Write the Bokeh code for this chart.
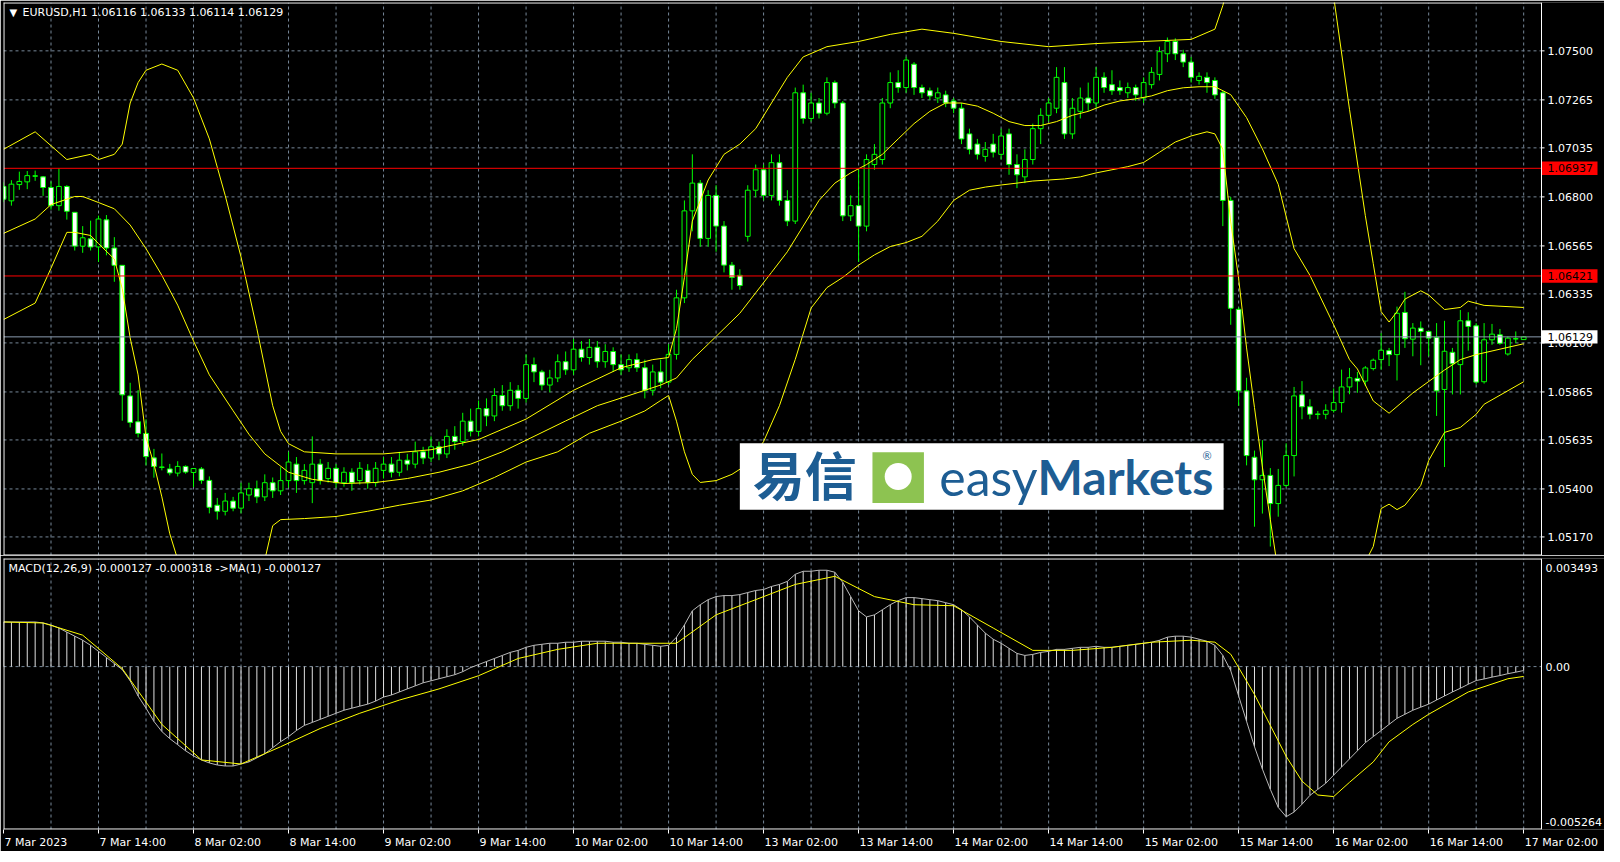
from bokeh.plotting import figure
from bokeh.layouts import column
from bokeh.models import Range1d, FixedTicker, Label
from bokeh.embed import file_html
from bokeh.resources import INLINE
from bokeh.core.properties import value

# ---------------- data ----------------
symbol_title = "EURUSD,H1  1.06116 1.06133 1.06114 1.06129"
macd_title = "MACD(12,26,9) -0.000127 -0.000318  ->MA(1) -0.000127"
time_labels = ["7 Mar 2023", "7 Mar 14:00", "8 Mar 02:00", "8 Mar 14:00", "9 Mar 02:00",
               "9 Mar 14:00", "10 Mar 02:00", "10 Mar 14:00", "13 Mar 02:00", "13 Mar 14:00",
               "14 Mar 02:00", "14 Mar 14:00", "15 Mar 02:00", "15 Mar 14:00", "16 Mar 02:00",
               "16 Mar 14:00", "17 Mar 02:00"]
bars_per_label = 12
bars_per_grid = 6

ohlc = [
    (1.06850, 1.06870, 1.06775, 1.06789), (1.06781, 1.06880, 1.06758, 1.06861),
    (1.06859, 1.06921, 1.06834, 1.06874), (1.06872, 1.06924, 1.06837, 1.06902),
    (1.06900, 1.06926, 1.06877, 1.06900), (1.06896, 1.06900, 1.06805, 1.06845),
    (1.06845, 1.06874, 1.06739, 1.06758), (1.06758, 1.06937, 1.06734, 1.06850),
    (1.06850, 1.06856, 1.06691, 1.06731), (1.06726, 1.06726, 1.06543, 1.06564),
    (1.06564, 1.06660, 1.06532, 1.06604), (1.06599, 1.06686, 1.06543, 1.06560),
    (1.06560, 1.06710, 1.06488, 1.06694), (1.06690, 1.06713, 1.06520, 1.06555),
    (1.06555, 1.06607, 1.06393, 1.06472), (1.06472, 1.06472, 1.05727, 1.05851),
    (1.05846, 1.05909, 1.05695, 1.05719), (1.05722, 1.05874, 1.05647, 1.05666),
    (1.05666, 1.05734, 1.05513, 1.05555), (1.05549, 1.05592, 1.05454, 1.05508),
    (1.05504, 1.05570, 1.05489, 1.05504), (1.05496, 1.05520, 1.05465, 1.05477),
    (1.05476, 1.05533, 1.05460, 1.05508), (1.05508, 1.05513, 1.05473, 1.05481),
    (1.05479, 1.05498, 1.05409, 1.05498), (1.05496, 1.05505, 1.05425, 1.05441),
    (1.05441, 1.05460, 1.05283, 1.05312), (1.05322, 1.05357, 1.05253, 1.05293),
    (1.05293, 1.05381, 1.05273, 1.05342), (1.05342, 1.05362, 1.05293, 1.05308),
    (1.05308, 1.05430, 1.05283, 1.05381), (1.05371, 1.05430, 1.05342, 1.05401),
    (1.05401, 1.05440, 1.05332, 1.05362), (1.05362, 1.05470, 1.05342, 1.05430),
    (1.05430, 1.05455, 1.05357, 1.05391), (1.05391, 1.05504, 1.05371, 1.05440),
    (1.05440, 1.05578, 1.05406, 1.05529), (1.05519, 1.05553, 1.05381, 1.05440),
    (1.05440, 1.05519, 1.05421, 1.05489), (1.05430, 1.05652, 1.05332, 1.05519),
    (1.05519, 1.05543, 1.05421, 1.05440), (1.05450, 1.05529, 1.05430, 1.05499),
    (1.05499, 1.05519, 1.05406, 1.05430), (1.05430, 1.05504, 1.05411, 1.05480),
    (1.05480, 1.05499, 1.05391, 1.05430), (1.05440, 1.05529, 1.05421, 1.05499),
    (1.05489, 1.05519, 1.05401, 1.05430), (1.05430, 1.05529, 1.05411, 1.05499),
    (1.05489, 1.05553, 1.05450, 1.05519), (1.05519, 1.05553, 1.05455, 1.05480),
    (1.05480, 1.05578, 1.05460, 1.05538), (1.05538, 1.05568, 1.05489, 1.05519),
    (1.05519, 1.05627, 1.05499, 1.05578), (1.05578, 1.05602, 1.05519, 1.05548),
    (1.05548, 1.05652, 1.05529, 1.05602), (1.05602, 1.05627, 1.05538, 1.05568),
    (1.05568, 1.05686, 1.05548, 1.05652), (1.05652, 1.05701, 1.05588, 1.05627),
    (1.05627, 1.05765, 1.05608, 1.05725), (1.05725, 1.05785, 1.05652, 1.05676),
    (1.05676, 1.05824, 1.05652, 1.05785), (1.05785, 1.05834, 1.05701, 1.05750),
    (1.05750, 1.05883, 1.05725, 1.05848), (1.05848, 1.05898, 1.05775, 1.05799),
    (1.05799, 1.05912, 1.05775, 1.05873), (1.05873, 1.05898, 1.05785, 1.05834),
    (1.05834, 1.06045, 1.05814, 1.05996), (1.05996, 1.06030, 1.05912, 1.05961),
    (1.05961, 1.05971, 1.05873, 1.05898), (1.05898, 1.05971, 1.05863, 1.05932),
    (1.05932, 1.06045, 1.05912, 1.06010), (1.06010, 1.06059, 1.05947, 1.05971),
    (1.05971, 1.06119, 1.05947, 1.06070), (1.06070, 1.06109, 1.06010, 1.06030),
    (1.06030, 1.06119, 1.05996, 1.06079), (1.06079, 1.06109, 1.05981, 1.06010),
    (1.06010, 1.06094, 1.05981, 1.06059), (1.06059, 1.06079, 1.05961, 1.05996),
    (1.05996, 1.06045, 1.05947, 1.05971), (1.05981, 1.06045, 1.05961, 1.06020),
    (1.06020, 1.06050, 1.05961, 1.05981), (1.05981, 1.06020, 1.05834, 1.05873),
    (1.05873, 1.05996, 1.05848, 1.05961), (1.05961, 1.06020, 1.05883, 1.05912),
    (1.05912, 1.06094, 1.05898, 1.06045), (1.06045, 1.06355, 1.06020, 1.06316),
    (1.06316, 1.06783, 1.06291, 1.06733), (1.06733, 1.07004, 1.06635, 1.06866),
    (1.06866, 1.06881, 1.06561, 1.06601), (1.06601, 1.06832, 1.06561, 1.06807),
    (1.06807, 1.06856, 1.06537, 1.06660), (1.06660, 1.06684, 1.06438, 1.06473),
    (1.06473, 1.06488, 1.06355, 1.06414), (1.06424, 1.06453, 1.06355, 1.06375),
    (1.06611, 1.06856, 1.06586, 1.06832), (1.06832, 1.06955, 1.06798, 1.06930),
    (1.06930, 1.06955, 1.06783, 1.06807), (1.06807, 1.07004, 1.06783, 1.06964),
    (1.06964, 1.07004, 1.06758, 1.06783), (1.06783, 1.06832, 1.06660, 1.06684),
    (1.06684, 1.07324, 1.06670, 1.07299), (1.07299, 1.07338, 1.07151, 1.07176),
    (1.07176, 1.07299, 1.07161, 1.07250), (1.07250, 1.07274, 1.07176, 1.07201),
    (1.07201, 1.07373, 1.07191, 1.07348), (1.07348, 1.07358, 1.07225, 1.07250),
    (1.07250, 1.07260, 1.06684, 1.06709), (1.06709, 1.06807, 1.06684, 1.06758),
    (1.06758, 1.06930, 1.06488, 1.06660), (1.06660, 1.07004, 1.06635, 1.06979),
    (1.06955, 1.07053, 1.06930, 1.07004), (1.06979, 1.07274, 1.06955, 1.07250),
    (1.07250, 1.07397, 1.07225, 1.07348), (1.07348, 1.07407, 1.07299, 1.07324),
    (1.07324, 1.07471, 1.07299, 1.07456), (1.07436, 1.07446, 1.07289, 1.07324),
    (1.07324, 1.07338, 1.07274, 1.07299), (1.07309, 1.07324, 1.07264, 1.07284),
    (1.07274, 1.07324, 1.07250, 1.07299), (1.07289, 1.07309, 1.07230, 1.07250),
    (1.07260, 1.07274, 1.07201, 1.07225), (1.07225, 1.07250, 1.07053, 1.07078),
    (1.07102, 1.07127, 1.07004, 1.07028), (1.07053, 1.07078, 1.06979, 1.07004),
    (1.06994, 1.07063, 1.06969, 1.07028), (1.07053, 1.07102, 1.06989, 1.07014),
    (1.07004, 1.07127, 1.06979, 1.07092), (1.07102, 1.07127, 1.06906, 1.06955),
    (1.06955, 1.07004, 1.06842, 1.06906), (1.06896, 1.07028, 1.06866, 1.06979),
    (1.06979, 1.07151, 1.06955, 1.07127), (1.07127, 1.07225, 1.07053, 1.07191),
    (1.07191, 1.07274, 1.07161, 1.07250), (1.07225, 1.07422, 1.07201, 1.07373),
    (1.07348, 1.07422, 1.07078, 1.07102), (1.07102, 1.07274, 1.07078, 1.07225),
    (1.07210, 1.07324, 1.07176, 1.07274), (1.07274, 1.07348, 1.07210, 1.07250),
    (1.07250, 1.07422, 1.07225, 1.07373), (1.07373, 1.07397, 1.07299, 1.07324),
    (1.07338, 1.07407, 1.07289, 1.07309), (1.07324, 1.07358, 1.07289, 1.07309),
    (1.07299, 1.07348, 1.07274, 1.07324), (1.07324, 1.07338, 1.07260, 1.07289),
    (1.07274, 1.07373, 1.07250, 1.07348), (1.07338, 1.07422, 1.07319, 1.07397),
    (1.07387, 1.07520, 1.07358, 1.07496), (1.07486, 1.07564, 1.07446, 1.07545),
    (1.07545, 1.07560, 1.07456, 1.07486), (1.07486, 1.07505, 1.07422, 1.07446),
    (1.07446, 1.07471, 1.07348, 1.07373), (1.07358, 1.07397, 1.07338, 1.07378),
    (1.07373, 1.07397, 1.07299, 1.07348), (1.07358, 1.07373, 1.07270, 1.07289),
    (1.07299, 1.07309, 1.06660, 1.06783), (1.06783, 1.06800, 1.06187, 1.06266),
    (1.06261, 1.06270, 1.05798, 1.05870), (1.05870, 1.05933, 1.05513, 1.05560),
    (1.05552, 1.05584, 1.05219, 1.05444), (1.05444, 1.05634, 1.05282, 1.05465),
    (1.05465, 1.05500, 1.05124, 1.05330), (1.05330, 1.05496, 1.05267, 1.05417),
    (1.05417, 1.05619, 1.05409, 1.05560), (1.05560, 1.05889, 1.05460, 1.05846),
    (1.05851, 1.05917, 1.05734, 1.05794), (1.05794, 1.05830, 1.05734, 1.05758),
    (1.05758, 1.05774, 1.05734, 1.05758), (1.05758, 1.05806, 1.05734, 1.05777),
    (1.05777, 1.05882, 1.05766, 1.05814), (1.05814, 1.05972, 1.05766, 1.05889),
    (1.05889, 1.05980, 1.05854, 1.05933), (1.05930, 1.05961, 1.05861, 1.05917),
    (1.05917, 1.05989, 1.05893, 1.05980), (1.05977, 1.06025, 1.05968, 1.06017),
    (1.06020, 1.06147, 1.05972, 1.06065), (1.06063, 1.06076, 1.05989, 1.06044),
    (1.06044, 1.06274, 1.05920, 1.06242), (1.06246, 1.06345, 1.06076, 1.06120),
    (1.06118, 1.06195, 1.06036, 1.06171), (1.06171, 1.06203, 1.05993, 1.06155),
    (1.06155, 1.06158, 1.06036, 1.06123), (1.06127, 1.06195, 1.05750, 1.05870),
    (1.05877, 1.06206, 1.05505, 1.06060), (1.06055, 1.06076, 1.05853, 1.06000),
    (1.05996, 1.06258, 1.05853, 1.06206), (1.06206, 1.06247, 1.06063, 1.06179),
    (1.06182, 1.06195, 1.05901, 1.05912), (1.05914, 1.06195, 1.05905, 1.06115),
    (1.06115, 1.06191, 1.06091, 1.06142), (1.06139, 1.06167, 1.06091, 1.06098),
    (1.06047, 1.06131, 1.06039, 1.06123), (1.06120, 1.06155, 1.06099, 1.06120),
    (1.06116, 1.06133, 1.06114, 1.06129),
]
opens = [r[0] for r in ohlc]
highs = [r[1] for r in ohlc]
lows = [r[2] for r in ohlc]
closes = [r[3] for r in ohlc]

bb_upper = [(0, 1.07028), (4, 1.07112), (8, 1.06979), (11, 1.07004), (12, 1.06979), (14, 1.07004),
            (15, 1.07053), (16, 1.07250), (17, 1.07348), (18, 1.07407), (20, 1.07437), (22, 1.07407),
            (24, 1.07274), (26, 1.07078), (28, 1.06807), (30, 1.06512), (32, 1.06168), (34, 1.05799),
            (35, 1.05676), (36, 1.05617), (38, 1.05578), (42, 1.05568), (48, 1.05568), (54, 1.05588),
            (60, 1.05637), (66, 1.05735), (72, 1.05873), (78, 1.05981), (82, 1.06020), (84, 1.06030),
            (85, 1.06168), (86, 1.06414), (87, 1.06684), (89, 1.06881), (91, 1.07004), (93, 1.07053),
            (95, 1.07127), (97, 1.07250), (99, 1.07373), (101, 1.07471), (104, 1.07520), (108, 1.07545),
            (112, 1.07579), (116, 1.07604), (120, 1.07584), (126, 1.07545), (132, 1.07520), (138, 1.07535),
            (144, 1.07545), (150, 1.07555), (153, 1.07604), (154, 1.07717), (156, 1.08000), (158, 1.08250),
            (160, 1.08400), (162, 1.08480), (164, 1.08420), (166, 1.08150), (168, 1.07760), (170, 1.07220),
            (172, 1.06710), (173, 1.06480), (174, 1.06250), (175, 1.06200), (176, 1.06250), (177, 1.06310),
            (179, 1.06350), (180, 1.06330), (182, 1.06260), (184, 1.06270), (185, 1.06300), (187, 1.06280),
            (192, 1.06270)]
bb_middle = [(0, 1.06625), (4, 1.06694), (6, 1.06763), (9, 1.06802), (10, 1.06802), (12, 1.06773),
             (14, 1.06743), (16, 1.06665), (18, 1.06552), (20, 1.06424), (22, 1.06281), (24, 1.06109),
             (26, 1.05947), (29, 1.05775), (31, 1.05662), (33, 1.05568), (36, 1.05480), (39, 1.05446),
             (43, 1.05426), (47, 1.05431), (51, 1.05450), (55, 1.05480), (59, 1.05519), (63, 1.05578),
             (67, 1.05652), (71, 1.05726), (75, 1.05799), (79, 1.05848), (83, 1.05898), (85, 1.05932),
             (87, 1.06021), (89, 1.06094), (91, 1.06168), (93, 1.06242), (95, 1.06340), (97, 1.06438),
             (99, 1.06537), (101, 1.06660), (103, 1.06783), (105, 1.06866), (107, 1.06915), (109, 1.06955),
             (111, 1.07004), (113, 1.07078), (115, 1.07151), (117, 1.07210), (119, 1.07250), (121, 1.07250),
             (123, 1.07235), (125, 1.07201), (127, 1.07161), (129, 1.07142), (131, 1.07142), (133, 1.07161),
             (135, 1.07191), (137, 1.07210), (139, 1.07240), (141, 1.07260), (143, 1.07270), (145, 1.07284),
             (147, 1.07309), (149, 1.07323), (151, 1.07328), (153, 1.07328), (155, 1.07290), (157, 1.07180),
             (159, 1.07030), (161, 1.06860), (163, 1.06552), (165, 1.06424), (168, 1.06187), (170, 1.06020),
             (171, 1.05975), (173, 1.05822), (175, 1.05763), (178, 1.05860), (180, 1.05915), (182, 1.05970),
             (184, 1.06020), (186, 1.06044), (192, 1.06096)]
bb_lower = [(0, 1.06212), (4, 1.06291), (6, 1.06458), (8, 1.06630), (9, 1.06630), (11, 1.06615),
            (12, 1.06576), (14, 1.06502), (15, 1.06360), (16, 1.06124), (17, 1.05947), (18, 1.05647),
            (19, 1.05519), (20, 1.05362), (21, 1.05185), (22, 1.05062), (24, 1.04900), (27, 1.04780),
            (30, 1.04820), (32, 1.04920), (33, 1.05060), (34, 1.05224), (35, 1.05253), (38, 1.05258),
            (42, 1.05268), (46, 1.05293), (50, 1.05322), (54, 1.05347), (58, 1.05391), (62, 1.05455),
            (66, 1.05529), (70, 1.05578), (74, 1.05667), (78, 1.05725), (81, 1.05774), (83, 1.05824),
            (84, 1.05848), (85, 1.05725), (86, 1.05578), (87, 1.05470), (88, 1.05431), (90, 1.05440),
            (92, 1.05470), (94, 1.05519), (96, 1.05627), (98, 1.05799), (100, 1.06021), (102, 1.06267),
            (104, 1.06365), (106, 1.06414), (108, 1.06473), (110, 1.06522), (112, 1.06562), (114, 1.06581),
            (116, 1.06611), (118, 1.06684), (120, 1.06783), (122, 1.06832), (124, 1.06847), (126, 1.06857),
            (128, 1.06866), (130, 1.06876), (132, 1.06881), (134, 1.06886), (136, 1.06896), (138, 1.06915),
            (140, 1.06930), (142, 1.06945), (144, 1.06965), (146, 1.07014), (148, 1.07063), (150, 1.07092),
            (152, 1.07112), (153, 1.07102), (154, 1.07028), (155, 1.06680), (156, 1.06408), (157, 1.06076),
            (158, 1.05790), (159, 1.05505), (160, 1.05253), (161, 1.05000), (162, 1.04780), (164, 1.04620),
            (166, 1.04650), (168, 1.04780), (170, 1.04920), (172, 1.05050), (173, 1.05124), (174, 1.05306),
            (175, 1.05327), (176, 1.05301), (177, 1.05322), (179, 1.05417), (180, 1.05536), (182, 1.05671),
            (184, 1.05695), (186, 1.05758), (187, 1.05806), (192, 1.05914)]

price_ticks = [1.07500, 1.07265, 1.07035, 1.06800, 1.06565, 1.06335, 1.06100,
               1.05865, 1.05635, 1.05400, 1.05170]
price_low, price_high = 1.050810, 1.077318
level_lines = [1.06937, 1.06421]
bid_price = 1.06129

macd = [0.001442, 0.001442, 0.001442, 0.001442, 0.001442, 0.001410, 0.001344, 0.001246, 0.001115, 0.000983,
        0.000852, 0.000688, 0.000492, 0.000295, 0.000098, -0.000098, -0.000459, -0.000951, -0.001344, -0.001770,
        -0.002098, -0.002327, -0.002524, -0.002721, -0.002885, -0.003016, -0.003114, -0.003180, -0.003212, -0.003212,
        -0.003147, -0.003081, -0.002950, -0.002819, -0.002622, -0.002426, -0.002262, -0.002065, -0.001901, -0.001803,
        -0.001705, -0.001606, -0.001508, -0.001410, -0.001344, -0.001278, -0.001213, -0.001115, -0.000983, -0.000918,
        -0.000820, -0.000721, -0.000623, -0.000524, -0.000459, -0.000393, -0.000328, -0.000262, -0.000164, -0.000033,
        0.000066, 0.000164, 0.000262, 0.000361, 0.000459, 0.000524, 0.000623, 0.000688, 0.000721, 0.000754,
        0.000754, 0.000787, 0.000787, 0.000820, 0.000820, 0.000820, 0.000820, 0.000787, 0.000787, 0.000754,
        0.000754, 0.000721, 0.000688, 0.000656, 0.000688, 0.000951, 0.001344, 0.001803, 0.002000, 0.002163,
        0.002262, 0.002295, 0.002295, 0.002327, 0.002393, 0.002459, 0.002491, 0.002590, 0.002655, 0.002754,
        0.002983, 0.003081, 0.003081, 0.003114, 0.003114, 0.003049, 0.002721, 0.002262, 0.001803, 0.001606,
        0.001672, 0.001836, 0.002000, 0.002131, 0.002229, 0.002229, 0.002196, 0.002163, 0.002131, 0.002065,
        0.002000, 0.001836, 0.001606, 0.001344, 0.001082, 0.000885, 0.000754, 0.000590, 0.000426, 0.000361,
        0.000393, 0.000459, 0.000492, 0.000557, 0.000557, 0.000590, 0.000623, 0.000623, 0.000656, 0.000623,
        0.000623, 0.000656, 0.000688, 0.000721, 0.000754, 0.000787, 0.000852, 0.000951, 0.000983, 0.000983,
        0.000951, 0.000885, 0.000820, 0.000688, 0.000361, -0.000131, -0.000951, -0.001770, -0.002590, -0.003311,
        -0.003966, -0.004550, -0.004850, -0.004700, -0.004450, -0.004163, -0.003966, -0.003770, -0.003507, -0.003245,
        -0.002983, -0.002721, -0.002459, -0.002262, -0.002065, -0.001868, -0.001672, -0.001541, -0.001410, -0.001311,
        -0.001213, -0.001080, -0.000950, -0.000820, -0.000700, -0.000570, -0.000450, -0.000400, -0.000340, -0.000290,
        -0.000230, -0.000180, -0.000127]
macd_signal = [(0, 0.001442), (5, 0.001410), (10, 0.001016), (15, -0.000066), (20, -0.001868), (25, -0.003016),
               (30, -0.003147), (35, -0.002590), (40, -0.002000), (45, -0.001508), (50, -0.001082), (55, -0.000721),
               (60, -0.000295), (65, 0.000262), (70, 0.000557), (75, 0.000754), (80, 0.000754), (85, 0.000754),
               (90, 0.001672), (95, 0.002163), (100, 0.002655), (105, 0.002917), (110, 0.002262), (115, 0.002000),
               (120, 0.001967), (125, 0.001246), (130, 0.000524), (135, 0.000524), (140, 0.000623), (145, 0.000787),
               (150, 0.000852), (153, 0.000790), (155, 0.000400), (158, -0.000900), (160, -0.001900), (162, -0.002900),
               (164, -0.003700), (166, -0.004150), (168, -0.004200), (170, -0.003740), (173, -0.003080),
               (175, -0.002430), (178, -0.001870), (180, -0.001540), (185, -0.000820), (190, -0.000393),
               (192, -0.000318)]
macd_top, macd_bottom = 0.003493, -0.005264

# ---------------- layout ----------------
FONT = "DejaVu Sans"
FS = "11px"
CHART_W = 1538          # width of the price area, px
FULL_W = 1601           # price area + right scale area
MAIN_H, MACD_H = 553, 271
X_END = 194.25          # bars visible across the price area
PX = CHART_W / X_END    # px per bar
X_TOT = FULL_W / PX
GRID = "#778899"
CANDLE = "#00ff00"
N = len(closes)
idx = list(range(N))
grid_x = list(range(bars_per_grid, N, bars_per_grid))


def dx(px):
    return px / PX


def new_panel(h, lo, hi, bottom, xr):
    f = figure(frame_width=FULL_W, frame_height=h, x_range=xr,
               y_range=Range1d(lo, hi), output_backend="svg", toolbar_location=None,
               x_axis_location=None if bottom == 0 else "below", y_axis_location=None,
               background_fill_color="black", border_fill_color="black",
               min_border_left=3, min_border_right=0, min_border_top=2 if bottom == 0 else 3,
               min_border_bottom=bottom)
    f.outline_line_color = None
    f.xgrid.visible = False
    f.ygrid.visible = False
    return f


def frame_box(f, lo, hi, h):
    dy = (hi - lo) / h
    f.segment(x0=[0, 0, dx(0.5), X_END], y0=[hi - 0.5 * dy, lo + 0.5 * dy, lo, lo],
              x1=[X_END, X_END, dx(0.5), X_END], y1=[hi - 0.5 * dy, lo + 0.5 * dy, hi, hi],
              line_color="white", line_width=1)


# ---- main price panel ----
p = new_panel(MAIN_H, price_low, price_high, 0, Range1d(0, X_TOT))
dyp = (price_high - price_low) / MAIN_H

p.segment(x0=grid_x, y0=[price_low] * len(grid_x), x1=grid_x, y1=[price_high] * len(grid_x),
          line_color=GRID, line_dash="3 3", line_width=1)
p.segment(x0=[0] * len(price_ticks), y0=price_ticks, x1=[X_END] * len(price_ticks), y1=price_ticks,
          line_color=GRID, line_dash="3 3", line_width=1)

bull = [i for i in idx if closes[i] >= opens[i]]
bear = [i for i in idx if closes[i] < opens[i]]
p.segment(x0=idx, y0=lows, x1=idx, y1=highs, line_color=CANDLE, line_width=1)
p.vbar(x=bull, width=0.6, top=[closes[i] for i in bull], bottom=[opens[i] for i in bull],
       fill_color="black", line_color=CANDLE, line_width=1)
p.vbar(x=bear, width=0.6, top=[opens[i] for i in bear], bottom=[closes[i] for i in bear],
       fill_color="white", line_color=CANDLE, line_width=1)
doji = [i for i in idx if abs(closes[i] - opens[i]) < 0.00004]
p.segment(x0=[i - 0.3 for i in doji], y0=[opens[i] for i in doji], x1=[i + 0.3 for i in doji],
          y1=[opens[i] for i in doji], line_color=CANDLE, line_width=1)

for band in (bb_upper, bb_middle, bb_lower):
    p.line([b[0] for b in band], [b[1] for b in band], line_color="#ffff00", line_width=1)

p.segment(x0=[0, 0, 0], y0=level_lines + [bid_price], x1=[X_END] * 3, y1=level_lines + [bid_price],
          line_color=["#ff0000", "#ff0000", "#8a9bb0"], line_width=1)

# logo overlay
BLUE = "#1d5d93"
logo_l, logo_r, logo_t, logo_b = 93.0, 154.1, 1.05619, 1.05300
logo_mid = (logo_t + logo_b) / 2
p.quad(left=logo_l, right=logo_r, top=logo_t, bottom=logo_b, fill_color="white", line_color=None)
p.quad(left=109.75, right=116.25, top=1.05576, bottom=1.05333, fill_color="#8dc351", line_color=None)
p.scatter(x=[113.0], y=[logo_mid], size=27, marker="circle", fill_color="white", line_color=None)
p.add_layout(Label(x=101.2, y=logo_mid + 3 * dyp, text="易信", text_align="center", text_baseline="middle",
                   text_font="Noto Sans CJK SC", text_font_size="52px", text_font_style="bold",
                   text_color=BLUE))
p.add_layout(Label(x=130.6, y=logo_mid, text="easy", text_align="right", text_baseline="middle",
                   text_font="Lato", text_font_size="50px", text_color=BLUE))
p.add_layout(Label(x=130.6, y=logo_mid, text="Markets", text_align="left", text_baseline="middle",
                   text_font="Lato", text_font_size="48px", text_font_style="bold", text_color=BLUE))
p.add_layout(Label(x=152.0, y=1.05561, text="®", text_align="center", text_baseline="middle",
                   text_font="Lato", text_font_size="11px", text_color=BLUE))

# right price scale
frame_box(p, price_low, price_high, MAIN_H)
p.segment(x0=[X_END] * len(price_ticks), y0=price_ticks, x1=[X_END + dx(3)] * len(price_ticks),
          y1=price_ticks, line_color="white", line_width=1)
p.text(x=[X_END + dx(6)] * len(price_ticks), y=price_ticks, text=[f"{t:.5f}" for t in price_ticks],
       text_font=value(FONT), text_font_size=value(FS), text_color="white",
       text_align="left", text_baseline="middle")
box_levels = level_lines + [bid_price]
box_colors = ["#ff0000", "#ff0000", "white"]
p.quad(left=[X_END + dx(0.5)] * 3, right=[X_END + dx(56)] * 3,
       top=[v + 6.7 * dyp for v in box_levels], bottom=[v - 6.7 * dyp for v in box_levels],
       fill_color=box_colors, line_color=None)
p.text(x=[X_END + dx(6)] * 3, y=box_levels, text=[f"{v:.5f}" for v in box_levels],
       text_font=value(FONT), text_font_size=value(FS), text_color="black",
       text_align="left", text_baseline="middle")

# title
p.add_layout(Label(x=0, y=price_high, x_offset=6, y_offset=-10, text="▼", text_baseline="middle",
                   text_font=FONT, text_font_size="10px", text_color="white"))
p.add_layout(Label(x=0, y=price_high, x_offset=19, y_offset=-10, text=symbol_title,
                   text_baseline="middle", text_font=FONT, text_font_size=FS, text_color="white"))

# ---- MACD panel ----
p2 = new_panel(MACD_H, macd_bottom, macd_top, 17, p.x_range)
dym = (macd_top - macd_bottom) / MACD_H
p2.segment(x0=grid_x, y0=[macd_bottom] * len(grid_x), x1=grid_x, y1=[macd_top] * len(grid_x),
           line_color=GRID, line_dash="3 3", line_width=1)
p2.segment(x0=[0], y0=[0], x1=[X_END], y1=[0], line_color=GRID, line_dash="3 3", line_width=1)

p2.segment(x0=idx, y0=[0] * N, x1=idx, y1=macd, line_color="#e0e0e0", line_width=1)
p2.line(idx, macd, line_color="#b8b8b8", line_width=1)
p2.line([s[0] for s in macd_signal], [s[1] for s in macd_signal], line_color="#ffff00", line_width=1)
frame_box(p2, macd_bottom, macd_top, MACD_H)

scale_vals = [macd_top - 9 * dym, 0, macd_bottom + 8 * dym]
p2.text(x=[X_END + dx(4)] * 3, y=scale_vals, text=[f"{macd_top:.6f}", "0.00", f"{macd_bottom:.6f}"],
        text_font=value(FONT), text_font_size=value(FS), text_color="white",
        text_align="left", text_baseline="middle")
p2.add_layout(Label(x=0, y=macd_top, x_offset=5, y_offset=-10, text=macd_title, text_baseline="middle",
                    text_font=FONT, text_font_size=FS, text_color="white"))

# x axis: MT4-style labels that start at their tick
CW = {"0": .636, "1": .636, "2": .636, "3": .636, "4": .636, "5": .636, "6": .636, "7": .636,
      "8": .636, "9": .636, " ": .318, ":": .337, "M": .863, "a": .613, "r": .411}
label_pos = [k * bars_per_label for k in range(len(time_labels))]
centers = [round(pos + (sum(CW.get(ch, .6) for ch in t) * 11 / 2 + 1) / PX, 3)
           for pos, t in zip(label_pos, time_labels)]
axx = p2.xaxis[0]
axx.ticker = FixedTicker(ticks=centers, minor_ticks=label_pos)
axx.major_label_overrides = {c: t for c, t in zip(centers, time_labels)}
axx.axis_line_color = None
axx.major_tick_line_color = None
axx.major_tick_out = 0
axx.major_tick_in = 0
axx.minor_tick_line_color = "white"
axx.minor_tick_out = 4
axx.minor_tick_in = 0
axx.major_label_standoff = 2
axx.major_label_text_color = "white"
axx.major_label_text_font = FONT
axx.major_label_text_font_size = FS

layout = column(p, p2)
open("out.html", "w").write(file_html(layout, INLINE))
